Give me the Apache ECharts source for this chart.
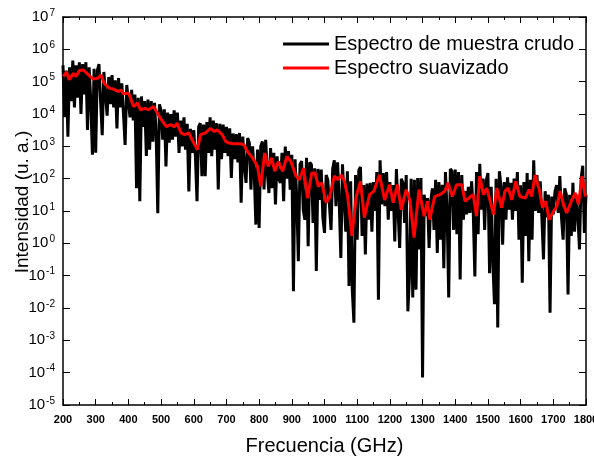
<!DOCTYPE html>
<html>
<head>
<meta charset="utf-8">
<script src="https://cdn.jsdelivr.net/npm/echarts@6/dist/echarts.min.js"></script>
<style>
html,body{margin:0;padding:0;background:#fff;}
#chart{width:594px;height:458px;}
</style>
</head>
<body>
<div id="chart"></div>
<script>
// Raw spectrum: values sampled every 5 GHz from 200 to 1800 GHz
const rawStart = 200;
const rawStep = 5;
const rawValues = [
  3.2e5, 7.9e3, 2.2e5, 2e3, 2.8e5, 2.5e4, 4.5e5, 1.6e4, 3.2e5, 3.2e4,
  4e5, 1e4, 3.5e5, 4e4, 4e5, 3.2e3, 2.8e5, 2.5e4, 5.5e2, 2.5e5,
  6.3e2, 2.2e5, 3.5e5, 2.5e4, 2.2e3, 2e5, 1.8e5, 8.9e3, 1.4e5, 2e4,
  1.6e5, 1.6e4, 1.1e5, 3.6e3, 1.3e5, 1.6e4, 8.9e4, 1e4, 1.1e3, 7.9e4,
  7.1e4, 7.9e3, 5.6e4, 6.3e3, 4e4, 51, 3.2e4, 20, 3.5e4, 4e3,
  2.5e4, 5e2, 2.8e4, 7.9e2, 2.5e4, 1.4e3, 2.2e4, 2.5e3, 8.5, 2e4,
  1.3e4, 1.6e3, 1.4e4, 2.4e2, 1.1e4, 1.3e3, 1e4, 1.6e3, 1.3e4, 2e3,
  1.1e4, 6.3e2, 6.3e3, 1e3, 7.9e3, 7.9e2, 5e3, 40, 3.5e3, 6.3e2,
  3.2e3, 5e2, 20, 4e3, 5.2e3, 1.2e2, 4.7e3, 1.2e2, 5.6e3, 6.3e2,
  7.9e3, 5e2, 6.3e3, 7.9e2, 5.2e3, 46, 5e3, 4e2, 4.7e3, 6.3e2,
  4e3, 5e2, 3.6e3, 1.05e2, 2.5e3, 4e2, 2.4e3, 3.2e2, 2.6e3, 18,
  2e3, 2.5e2, 74, 1.8e3, 1.3e3, 46, 1e3, 1.6e2, 3.8, 7.9e2,
  3, 1e3, 1.4e3, 46, 1.6e3, 1.6e2, 36, 8.9e2, 51, 6.3e2,
  16, 4.9e2, 1e2, 74, 6.3e2, 20, 9.8e2, 1e2, 7.1e2, 46,
  5.5e2, 3.3e-2, 4e2, 25, 0.28, 2.7e2, 3.5e2, 11, 5.4, 4.4e2,
  0.81, 3.2e2, 2.7e2, 4.3, 2.1e2, 0.14, 2e2, 22, 1.9e2, 6.2,
  2.1, 1.3e2, 93, 16, 2.6, 2e2, 3.7e2, 14, 3.2e2, 20,
  0.35, 2.8e2, 2.7e2, 2.3, 1.7e2, 4.8e-2, 83, 3.7e-2, 3.5e-3, 1.3e2,
  1.3, 1.8e2, 2.3e2, 1.7, 63, 0.45, 71, 5.4, 74, 2.3,
  78, 10, 1.6e2, 1.8e-2, 3.7e2, 16, 1.5e2, 14, 1.6e2, 5.4,
  79, 10, 63, 1.15, 2e2, 10, 0.72, 1e2, 74, 4.3,
  1.3e2, 7.9e-3, 9.5e-2, 1e2, 2.1e-2, 93, 3.7e-2, 1.05e2, 0.65, 1.05e2,
  7.1e-5, 32, 6.9, 25, 0.72, 20, 50, 2.6, 93, 0.5,
  79, 1.3, 65, 0.17, 1.6e2, 10, 2.1e-2, 2e2, 1.7e2, 2.6,
  1.9e2, 1.9, 1.6e2, 7.6e-2, 1.3e2, 5.4, 41, 7.8, 56, 8.7,
  83, 10, 9.5e-2, 1.6e2, 1.9, 2.9e2, 11, 1e2, 2.6, 89,
  1.5e2, 0.12, 56, 0.25, 1.3e-2, 1e2, 2.5e-3, 1.7e2, 58, 0.91,
  79, 5.4, 1.1e2, 11, 74, 5.4, 1e2, 10, 1.6e2, 1.3,
  63, 6e-2, 79, 1.7, 1.5e2, 0.28, 93, 1.3, 3.7e2, 10,
  1.3e2, 8.7, 83, 6.3, 0.32, 41, 6.3, 32, 7.1e-3, 28,
  7.8, 40, 63, 8.7, 1.2e2, 6.3, 1.3, 50, 32, 2.6e-2,
  32, 1.7, 74, 2.3, 32, 7.9, 0.65, 1e2, 2.5e2, 2.1,
  32
];

// Smoothed spectrum
const smoothFreq = [
  201, 211, 219, 232, 240, 250, 262, 268, 283, 293, 308, 316, 326, 342, 354, 370, 377, 385, 401, 416,
  428, 437, 452, 462, 477, 498, 516, 529, 541, 549, 561, 572, 585, 595, 611, 621, 636, 651, 662, 672,
  687, 698, 708, 723, 744, 754, 764, 780, 795, 805, 817, 828, 838, 848, 859, 872, 885, 897, 913, 923,
  936, 948, 961, 971, 981, 992, 1005, 1015, 1030, 1041, 1051, 1061, 1071, 1084, 1097, 1110, 1122, 1138, 1151, 1168,
  1184, 1199, 1210, 1223, 1235, 1250, 1261, 1274, 1289, 1305, 1315, 1322, 1337, 1353, 1368, 1378, 1391, 1404, 1420, 1430,
  1446, 1455, 1465, 1475, 1486, 1496, 1506, 1517, 1527, 1542, 1552, 1562, 1573, 1585, 1598, 1614, 1626, 1634, 1644, 1657,
  1667, 1677, 1687, 1701, 1711, 1721, 1731, 1741, 1755, 1767, 1777, 1788, 1798
];
const smoothValues = [
  1.45e5, 2.0e5, 1.15e5, 1.8e5, 1.45e5, 2.2e5, 2.3e5, 2.45e5, 1.45e5, 1.2e5, 1.3e5, 1.6e5, 8.9e4, 6.3e4, 5.9e4, 4.9e4, 5.6e4, 4.2e4, 4.4e4, 1.7e4,
  2.2e4, 1.35e4, 1.5e4, 1.35e4, 1.7e4, 7.4e3, 4.1e3, 4.7e3, 4.0e3, 5.2e3, 2.6e3, 2.3e3, 2.6e3, 1.6e3, 7.9e2, 2.3e3, 2.6e3, 3.6e3, 2.9e3, 3.2e3,
  2.3e3, 1.4e3, 1.26e3, 1.2e3, 1.2e3, 1.1e3, 6.9e2, 4.4e2, 2.4e2, 58, 6.2e2, 2.4e2, 4.4e2, 1.7e2, 3.4e2, 1.7e2, 4.9e2, 3.4e2, 1.2e2, 93,
  2.1e2, 25, 1.5e2, 1.5e2, 58, 74, 18, 25, 1.2e2, 93, 1.3e2, 83, 28, 1.7, 28, 83, 6.2, 32, 41, 1.3e2,
  22, 65, 18, 65, 11, 46, 22, 1.5, 46, 6.9, 20, 5.4, 28, 32, 41, 74, 28, 65, 65, 20,
  28, 32, 6.9, 1.2e2, 32, 51, 22, 7.8, 51, 12.6, 41, 51, 22, 83, 28, 25, 46, 28, 1.3e2, 46,
  12.6, 20, 5.4, 9.8, 14, 41, 16, 8.7, 20, 36, 16, 1.2e2, 28
];

const rawData = [];
for (let i = 0; i < rawValues.length; i++) {
  rawData.push([rawStart + i * rawStep, rawValues[i]]);
}
const smoothData = smoothFreq.map((f, i) => [f, smoothValues[i]]);

const chart = echarts.init(document.getElementById('chart'), null, {renderer: 'canvas'});
const font = 'Liberation Sans, Arial, sans-serif';
const axisLine = {show: true, lineStyle: {color: '#000', width: 1.5}};

chart.setOption({
  animation: false,
  backgroundColor: '#fff',
  grid: {left: 63, right: 8, top: 17, bottom: 53, containLabel: false, outerBoundsMode: 'none'},
  legend: {
    orient: 'vertical',
    left: 283,
    top: 34,
    padding: 0,
    itemGap: 4,
    itemWidth: 46,
    itemHeight: 3,
    icon: 'rect',
    textStyle: {fontFamily: font, fontSize: 20, color: '#000', lineHeight: 20},
    data: ['Espectro de muestra crudo', 'Espectro suavizado']
  },
  xAxis: [
    {
      type: 'value', min: 200, max: 1800, interval: 100,
      position: 'bottom',
      name: 'Frecuencia (GHz)', nameLocation: 'middle', nameGap: 31,
      nameMoveOverlap: false,
      nameTextStyle: {fontFamily: font, fontSize: 20, color: '#000'},
      axisLine: axisLine,
      axisTick: {show: true, inside: true, length: 6, lineStyle: {color: '#000', width: 1}},
      minorTick: {show: true, splitNumber: 2, length: 3, lineStyle: {color: '#000', width: 1}},
      axisLabel: {fontFamily: font, fontSize: 11, fontWeight: 'bold', color: '#000', margin: 9,
        formatter: function (v) { return String(v); }},
      splitLine: {show: false}
    },
    {
      type: 'value', min: 200, max: 1800, interval: 100,
      position: 'top',
      axisLine: axisLine,
      axisTick: {show: true, inside: true, length: 6, lineStyle: {color: '#000', width: 1}},
      minorTick: {show: true, splitNumber: 2, length: 3, lineStyle: {color: '#000', width: 1}},
      axisLabel: {show: false},
      splitLine: {show: false}
    }
  ],
  yAxis: [
    {
      type: 'log', logBase: 10, min: 1e-5, max: 1e7, interval: 1,
      position: 'left',
      name: 'Intensidad (u. a.)', nameLocation: 'middle', nameGap: 31,
      nameMoveOverlap: false,
      nameTextStyle: {fontFamily: font, fontSize: 19, color: '#000', padding: [0, 0, 0, 18]},
      axisLine: axisLine,
      axisTick: {show: true, inside: true, length: 7, lineStyle: {color: '#000', width: 1}},
      axisLabel: {
        margin: 8,
        formatter: function (v) {
          const e = Math.round(Math.log10(v));
          return '{b|10}{s|' + e + '}';
        },
        rich: {
          b: {fontFamily: font, fontSize: 15, color: '#000', lineHeight: 18},
          s: {fontFamily: font, fontSize: 10, color: '#000', lineHeight: 10, verticalAlign: 'top', padding: [0, 0, 0, 1]}
        }
      },
      splitLine: {show: false}
    },
    {
      type: 'log', logBase: 10, min: 1e-5, max: 1e7, interval: 1,
      position: 'right',
      axisLine: axisLine,
      axisTick: {show: true, inside: true, length: 7, lineStyle: {color: '#000', width: 1}},
      axisLabel: {show: false},
      splitLine: {show: false}
    }
  ],
  series: [
    {
      name: 'Espectro de muestra crudo',
      type: 'line',
      data: rawData,
      showSymbol: false,
      symbol: 'none',
      lineStyle: {color: '#000', width: 3},
      itemStyle: {color: '#000'},
      sampling: 'none',
      z: 2
    },
    {
      name: 'Espectro suavizado',
      type: 'line',
      data: smoothData,
      showSymbol: false,
      symbol: 'none',
      lineStyle: {color: '#ff0000', width: 3},
      itemStyle: {color: '#ff0000'},
      z: 3
    }
  ]
});
</script>
</body>
</html>
